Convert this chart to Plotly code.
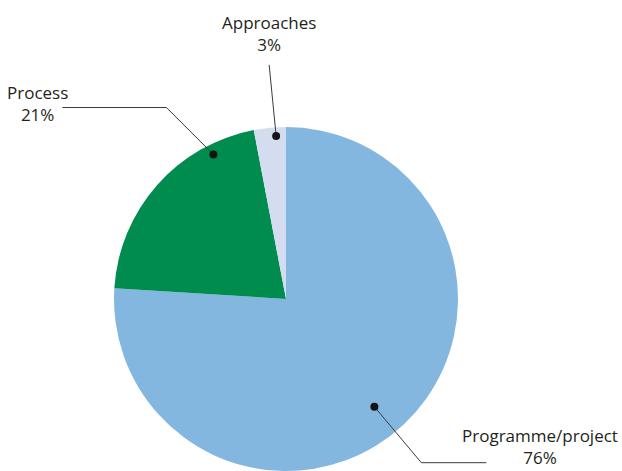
import math
import plotly.graph_objects as go

# Share of items by category
categories = ["Programme/project", "Process", "Approaches"]
shares = [76, 21, 3]
percent_labels = ["76%", "21%", "3%"]
colors = ["#84b7df", "#008c4f", "#d4ddef"]

W, H = 622, 471
CX, CY, R = 286, 299, 172  # pie centre and radius in page pixels
DOT_R = 4

# Where each leader dot sits: fraction through its slice and fraction of radius
dot_pos = {"Programme/project": (0.514, 0.81), "Process": (0.79, 0.94), "Approaches": (0.68, 0.95)}
# Leader line bends (offsets from the dot) and label anchors, in pixels
leader_path = {
    "Programme/project": [(47, 56), (112, 56)],
    "Process": [(-47, -47), (-151, -47)],
    "Approaches": [(-7, -71)],
}
# label centre x and vertical centre of the two-line block (None = sit on bottom edge)
label_pos = {
    "Programme/project": (540, None),
    "Process": (37.5, 103.5),
    "Approaches": (268.5, 33),
}
FONT = dict(family="Open Sans", size=17, color="#231f20")

fig = go.Figure()
fig.add_trace(go.Pie(
    labels=categories, values=shares, sort=False, direction="clockwise", rotation=0,
    marker=dict(colors=colors, line=dict(width=0)),
    textinfo="none", hoverinfo="label+percent", showlegend=False,
    domain=dict(x=[(CX - R) / W, (CX + R) / W], y=[0, 2 * R / H]),
))

total = sum(shares)
start = 0.0
annotations = []
shapes = []
for name, val, pct in zip(categories, shares, percent_labels):
    span = 360.0 * val / total
    frac, rf = dot_pos[name]
    theta = math.radians(start + frac * span)
    dx = CX + rf * R * math.sin(theta)
    dy = CY - rf * R * math.cos(theta)
    start += span
    pts = [(dx, dy)] + [(dx + ox, dy + oy) for ox, oy in leader_path[name]]
    path = "M " + " L ".join(f"{px:.2f},{py:.2f}" for px, py in pts)
    shapes.append(dict(type="path", path=path, xref="x", yref="y", layer="above",
                       line=dict(color="#3a3a3a", width=1)))
    shapes.append(dict(type="circle", xref="x", yref="y", layer="above",
                       x0=dx - DOT_R, x1=dx + DOT_R, y0=dy - DOT_R, y1=dy + DOT_R,
                       fillcolor="#141414", line=dict(width=0)))
    lx, ly = label_pos[name]
    text = f"{name}<br>{pct}"
    if ly is None:
        annotations.append(dict(x=lx, y=0, xref="x", yref="paper", text=text, showarrow=False,
                                xanchor="center", yanchor="bottom", align="center", font=FONT))
    else:
        annotations.append(dict(x=lx, y=ly, xref="x", yref="y", text=text, showarrow=False,
                                xanchor="center", yanchor="middle", align="center", font=FONT))

fig.update_layout(
    width=W, height=H, margin=dict(l=0, r=0, t=0, b=0),
    paper_bgcolor="white", plot_bgcolor="rgba(0,0,0,0)",
    xaxis=dict(range=[0, W], visible=False, fixedrange=True),
    yaxis=dict(range=[H, 0], visible=False, fixedrange=True),
    annotations=annotations, shapes=shapes,
)
fig.write_html("out.html")
